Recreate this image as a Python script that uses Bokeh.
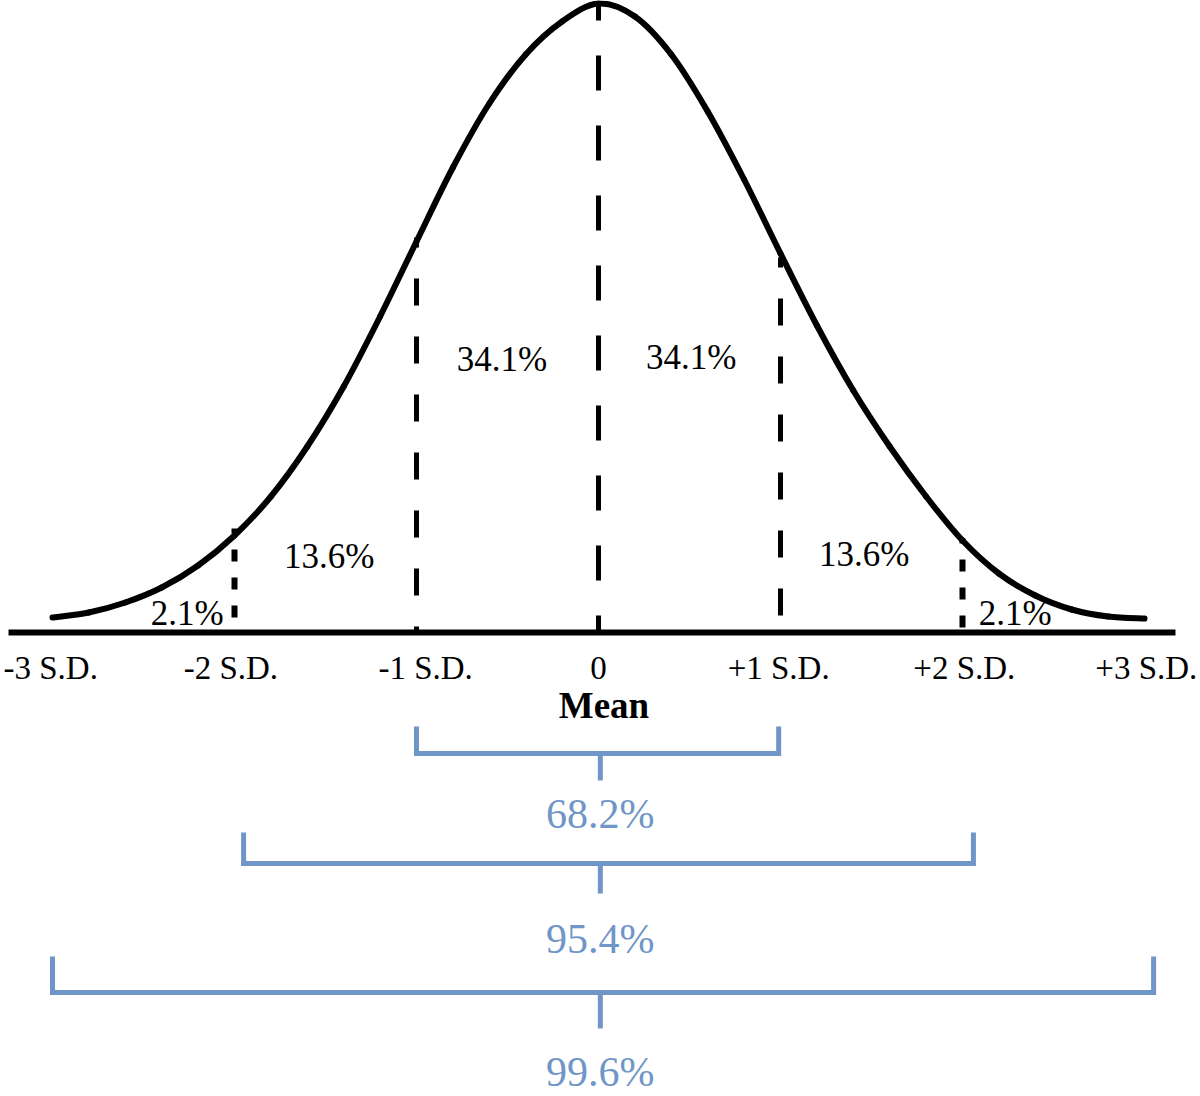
from bokeh.plotting import figure
from bokeh.models import Range1d
from bokeh.core.properties import value
from bokeh.embed import file_html
from bokeh.resources import INLINE

# ---- data (x in S.D. units, height in curve units, peak ~629) ----
curve_sd = [-3.0, -2.8, -2.6, -2.4, -2.2, -2.0, -1.8, -1.6, -1.4, -1.2, -1.0,
            -0.8, -0.6, -0.4, -0.2, 0.0, 0.2, 0.4, 0.6, 0.8, 1.0,
            1.2, 1.4, 1.6, 1.8, 2.0, 2.2, 2.4, 2.6, 2.8, 3.0]
curve_h = [15, 20, 30, 45, 67, 97, 136, 186, 246, 316, 391,
           465, 529, 578, 611, 629, 616, 578, 521, 453, 379,
           307, 242, 186, 136, 92, 59, 37, 23, 16, 14]

divider_sd = [-2, -1, 0, 1, 2]
divider_h = [104, 395, 629, 375, 94]

sd_labels = ["-3 S.D.", "-2 S.D.", "-1 S.D.", "0", "+1 S.D.", "+2 S.D.", "+3 S.D."]
sd_label_x = [-3.01, -2.02, -0.95, 0.0, 0.99, 2.01, 3.01]

area_labels = ["2.1%", "13.6%", "34.1%", "34.1%", "13.6%", "2.1%"]
area_x = [-2.26, -1.48, -0.53, 0.51, 1.46, 2.29]
area_y = [19, 76, 273, 275, 78, 19]

range_labels = ["68.2%", "95.4%", "99.6%"]
range_left = [-1.0, -1.95, -3.0]
range_right = [0.99, 2.06, 3.05]

BLUE = "#7096C8"
SERIF = value("Liberation Serif")

# ---- figure: 1 y-unit = 1 px, baseline at y=0 ----
SCALE = 182.0
p = figure(width=1200, height=1096,
           x_range=Range1d(-598 / SCALE, 602 / SCALE),
           y_range=Range1d(-464, 632),
           output_backend="svg", toolbar_location=None,
           min_border=0, background_fill_color="white",
           border_fill_color="white")
p.axis.visible = False
p.grid.visible = False
p.outline_line_color = None

# baseline
p.line([-590 / SCALE, 577 / SCALE], [0, 0], line_width=6, line_color="black")

# curve: smooth cubic Bezier segments through the read points (Catmull-Rom control points)
n = len(curve_sd)
x0, y0, x1, y1, cx0, cy0, cx1, cy1 = [], [], [], [], [], [], [], []
for i in range(n - 1):
    im = max(i - 1, 0)
    ip2 = min(i + 2, n - 1)
    x0.append(curve_sd[i]); y0.append(curve_h[i])
    x1.append(curve_sd[i + 1]); y1.append(curve_h[i + 1])
    cx0.append(curve_sd[i] + (curve_sd[i + 1] - curve_sd[im]) / 6.0)
    cy0.append(curve_h[i] + (curve_h[i + 1] - curve_h[im]) / 6.0)
    cx1.append(curve_sd[i + 1] - (curve_sd[ip2] - curve_sd[i]) / 6.0)
    cy1.append(curve_h[i + 1] - (curve_h[ip2] - curve_h[i]) / 6.0)
p.bezier(x0=x0, y0=y0, x1=x1, y1=y1, cx0=cx0, cy0=cy0, cx1=cx1, cy1=cy1,
         line_width=6, line_color="black", line_cap="round")

# dashed dividers
dash_styles = {0: ("35 35", 18, 5), 1: ("27 31", 17, 5), 2: ("12 16", 7, 6)}
for sd, h in zip(divider_sd, divider_h):
    dash, off, w = dash_styles[abs(sd)]
    p.line([sd, sd], [h, 0], line_width=w, line_color="black",
           line_dash=dash, line_dash_offset=off)

# S.D. labels
p.text(x=sd_label_x, y=[-35] * len(sd_labels), text=sd_labels,
       text_font=SERIF, text_font_size="33px", text_color="black",
       text_align="center", text_baseline="middle")
p.text(x=[0.03], y=[-73], text=["Mean"], text_font=SERIF,
       text_font_size="37px", text_font_style="bold", text_color="black",
       text_align="center", text_baseline="middle")

# area percentages
p.text(x=area_x, y=area_y, text=area_labels, text_font=SERIF,
       text_font_size="35px", text_color="black",
       text_align="center", text_baseline="middle")

# range brackets
bracket_top = [-94, -200, -324]
bracket_bar = [-121, -231, -360]
stem_end = [-148, -261, -396]
label_mid = [-181, -306, -439]
for i, lab in enumerate(range_labels):
    l, r = range_left[i], range_right[i]
    p.line([l, l, r, r], [bracket_top[i], bracket_bar[i], bracket_bar[i], bracket_top[i]],
           line_width=5, line_color=BLUE, line_join="miter")
    p.line([0.01, 0.01], [bracket_bar[i], stem_end[i]], line_width=5, line_color=BLUE)
    p.text(x=[0.01], y=[label_mid[i]], text=[lab], text_font=SERIF,
           text_font_size="42px", text_color=BLUE,
           text_align="center", text_baseline="middle")

open("out.html", "w").write(file_html(p, INLINE))
